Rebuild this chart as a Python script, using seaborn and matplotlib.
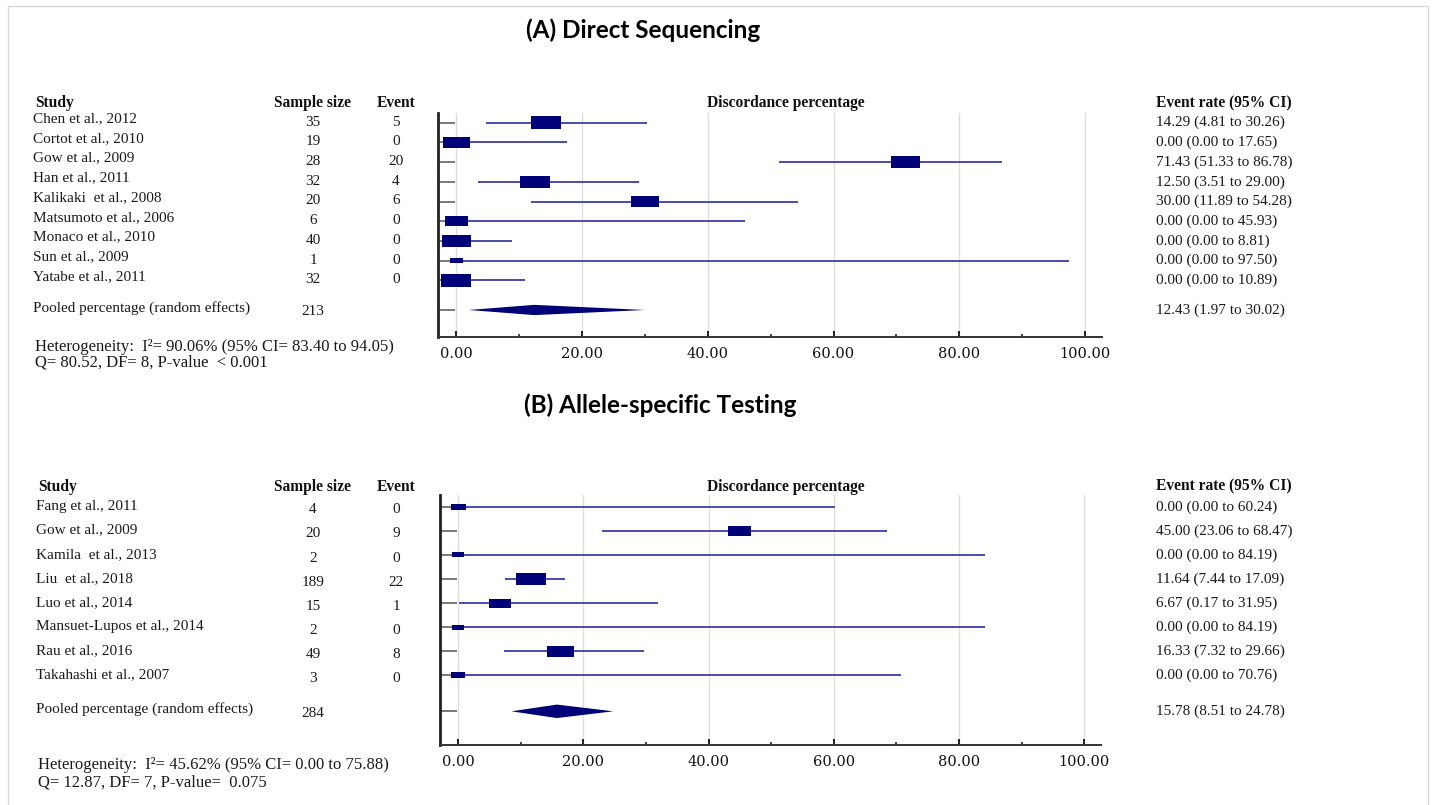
import numpy as np
import pandas as pd
import matplotlib.pyplot as plt
import seaborn as sns
from matplotlib.path import Path
from matplotlib.lines import Line2D
from matplotlib.ticker import FixedLocator


# (A) direct sequencing
studies_a = ["Chen et al., 2012", "Cortot et al., 2010", "Gow et al., 2009", "Han et al., 2011",
             "Kalikaki  et al., 2008", "Matsumoto et al., 2006", "Monaco et al., 2010",
             "Sun et al., 2009", "Yatabe et al., 2011"]
n_a = [35, 19, 28, 32, 20, 6, 40, 1, 32]
events_a = [5, 0, 20, 4, 6, 0, 0, 0, 0]
rate_a = [14.29, 0.00, 71.43, 12.50, 30.00, 0.00, 0.00, 0.00, 0.00]
lo_a = [4.81, 0.00, 51.33, 3.51, 11.89, 0.00, 0.00, 0.00, 0.00]
hi_a = [30.26, 17.65, 86.78, 29.00, 54.28, 45.93, 8.81, 97.50, 10.89]
weight_a = [13.4, 11.5, 12.7, 13.3, 12.3, 8.0, 13.1, 2.4, 13.3]   # relative weights (box area)
pooled_a = [12.43, 1.97, 30.02]
pooled_n_a = 213
het_a = ["Heterogeneity:  I²= 90.06% (95% CI= 83.40 to 94.05)",
         "Q= 80.52, DF= 8, P-value  < 0.001"]

# (B) allele-specific testing
studies_b = ["Fang et al., 2011", "Gow et al., 2009", "Kamila  et al., 2013", "Liu  et al., 2018",
             "Luo et al., 2014", "Mansuet-Lupos et al., 2014", "Rau et al., 2016",
             "Takahashi et al., 2007"]
n_b = [4, 20, 2, 189, 15, 2, 49, 3]
events_b = [0, 9, 0, 22, 1, 0, 8, 0]
rate_b = [0.00, 45.00, 0.00, 11.64, 6.67, 0.00, 16.33, 0.00]
lo_b = [0.00, 23.06, 0.00, 7.44, 0.17, 0.00, 7.32, 0.00]
hi_b = [60.24, 68.47, 84.19, 17.09, 31.95, 84.19, 29.66, 70.76]
weight_b = [6.9, 16.0, 4.4, 26.5, 14.3, 4.4, 21.8, 5.7]
pooled_b = [15.78, 8.51, 24.78]
pooled_n_b = 284
het_b = ["Heterogeneity:  I²= 45.62% (95% CI= 0.00 to 75.88)",
         "Q= 12.87, DF= 7, P-value=  0.075"]

xticks = [0, 20, 40, 60, 80, 100]
minor_ticks = [10, 30, 50, 70, 90]

W, H = 1432, 805
BOX = "#000078"
LINE = "#3c3cab"

sns.set_theme(style="white")
plt.rcParams["font.family"] = ["Liberation Serif", "DejaVu Serif"]
plt.rcParams["font.size"] = 11

fig = plt.figure(figsize=(W / 100, H / 100), dpi=100)
fig.patch.set_facecolor("white")

# rectangle marker for the study boxes (wider than tall)
box_marker = Path([(-1.2, -0.5), (1.2, -0.5), (1.2, 0.5), (-1.2, 0.5), (-1.2, -0.5)],
                  [Path.MOVETO, Path.LINETO, Path.LINETO, Path.LINETO, Path.CLOSEPOLY])


def fx(px):
    return px / W


def fy(py):
    return 1 - py / H


def panel(left, top, right, bottom, studies, n, ev, rate, lo, hi, wt, pooled, pooled_n,
          het, title, title_xy, head_row, bot_pad, name_x, name_dy, num_dy, het_y, dia_h, xlim):
    ax = fig.add_axes([fx(left), fy(bottom), fx(right - left), (bottom - top) / H])
    k = len(studies)
    rows = np.arange(k)
    prow = k + 0.5

    df = pd.DataFrame({"study": studies, "rate": rate, "lo": lo, "hi": hi,
                       "weight": wt, "row": rows})

    for v in xticks:
        ax.axvline(v, color="#dcdcdc", lw=1, zorder=0)

    ax.hlines(df["row"], df["lo"], df["hi"], color=LINE, lw=1.3, zorder=2)
    sns.scatterplot(data=df, x="rate", y="row", size="weight", sizes=(0, 455),
                    size_norm=(0, max(wt)), marker=box_marker, color=BOX,
                    linewidth=0, legend=False, ax=ax, zorder=3)

    est, plo, phi = pooled
    ax.fill([plo, est, phi, est], [prow, prow - dia_h, prow, prow + dia_h],
            color=BOX, lw=0, zorder=3)

    ax.set_xlim(*xlim)
    ax.set_ylim(prow + bot_pad, -0.49)
    ax.set_xlabel("")
    ax.set_ylabel("")
    ax.set_facecolor("none")
    sns.despine(ax=ax)
    ax.spines["left"].set_linewidth(2.0)
    ax.spines["left"].set_color("#222222")
    ax.spines["bottom"].set_linewidth(1.4)
    ax.spines["bottom"].set_color("#333333")

    ax.set_yticks(list(rows) + [prow])
    ax.set_yticklabels([])
    ax.tick_params(axis="y", left=True, direction="in", length=12, width=1.1,
                   color="#555555")
    ax.xaxis.set_major_locator(FixedLocator(xticks))
    ax.xaxis.set_minor_locator(FixedLocator(minor_ticks))
    ax.set_xticklabels([f"{v:.2f}" for v in xticks], fontfamily="DejaVu Serif",
                       fontsize=10.5, color="#111111")
    ax.tick_params(axis="x", which="major", bottom=True, direction="in", length=4,
                   width=1.4, color="#222222", pad=7)
    ax.tick_params(axis="x", which="minor", bottom=True, direction="in", length=2,
                   width=1.2, color="#222222")

    # table columns (x in pixels -> axes fraction, y in data rows)
    tr = ax.get_yaxis_transform()

    def ax_x(px):
        return (px - left) / (right - left)

    hd = dict(transform=tr, fontweight="bold", fontsize=11.2, va="center",
              clip_on=False, color="#111111")
    ax.text(ax_x(name_x + 2), head_row, "Study", ha="left", **hd)
    ax.text(ax_x(313), head_row, "Sample size", ha="center", **hd)
    ax.text(ax_x(396), head_row, "Event", ha="center", **hd)
    ax.text(ax_x(786), head_row, "Discordance percentage", ha="center", **hd)
    ax.text(ax_x(1156), head_row, "Event rate (95% CI)", ha="left", **hd)

    tx = dict(transform=tr, va="center", clip_on=False, color="#1a1a1a")
    for r, s, nn, e, m, l, h in zip(rows, studies, n, ev, rate, lo, hi):
        ax.text(ax_x(name_x), r + name_dy, s, ha="left", **tx)
        ax.text(ax_x(313), r + num_dy, str(nn), ha="center", **tx)
        ax.text(ax_x(396), r + num_dy, str(e), ha="center", **tx)
        ax.text(ax_x(1156), r, f"{m:.2f} ({l:.2f} to {h:.2f})", ha="left", **tx)
    ax.text(ax_x(name_x), prow - 0.08, "Pooled percentage (random effects)", ha="left", **tx)
    ax.text(ax_x(313), prow + 0.08, str(pooled_n), ha="center", **tx)
    ax.text(ax_x(1156), prow, f"{est:.2f} ({plo:.2f} to {phi:.2f})", ha="left", **tx)

    fig.text(fx(name_x + 2), fy(het_y[0]), het[0], fontsize=12, va="center", color="#1a1a1a")
    fig.text(fx(name_x + 2), fy(het_y[1]), het[1], fontsize=12, va="center", color="#1a1a1a")

    fig.text(fx(title_xy[0]), fy(title_xy[1]), title, ha="center", va="center",
             fontsize=17.5, fontweight="bold", family=["Lato", "DejaVu Sans"], color="black")
    return ax


panel(438, 113, 1102, 337, studies_a, n_a, events_a, rate_a, lo_a, hi_a, weight_a,
      pooled_a, pooled_n_a, het_a, "(A) Direct Sequencing", (643, 30),
      head_row=-1.0, bot_pad=1.37, name_x=33, name_dy=-0.2, num_dy=-0.03,
      het_y=(347, 362), dia_h=0.26, xlim=(-2.9, 102.7))

panel(440, 495, 1101, 745, studies_b, n_b, events_b, rate_b, lo_b, hi_b, weight_b,
      pooled_b, pooled_n_b, het_b, "(B) Allele-specific Testing", (660, 405),
      head_row=-0.83, bot_pad=1.4, name_x=36, name_dy=-0.03, num_dy=0.13,
      het_y=(765, 782), dia_h=0.28, xlim=(-2.9, 102.7))

# thin frame of the original slide
for xs, ys in [((8, 8), (6, 805)), ((8, 1428), (6, 6)), ((1428, 1428), (6, 805))]:
    fig.add_artist(Line2D([fx(x) for x in xs], [fy(y) for y in ys], color="#d8d8d8", lw=1))

fig.savefig("out.png", dpi=100)
